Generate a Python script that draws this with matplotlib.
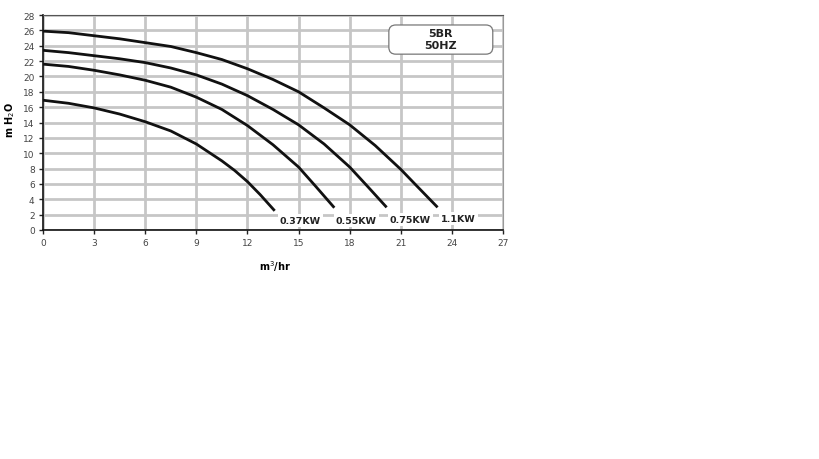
import matplotlib
matplotlib.use("Agg")
import matplotlib.pyplot as plt
from matplotlib.patches import FancyBboxPatch

# ---- data ----
x_11kw = [0, 1.5, 3, 4.5, 6, 7.5, 9, 10.5, 12, 13.5, 15, 16.5, 18, 19.5, 21, 22, 23.16]
y_11kw = [25.9, 25.7, 25.3, 24.9, 24.4, 23.9, 23.1, 22.2, 21.0, 19.6, 18.0, 15.9,
          13.7, 11.0, 7.9, 5.6, 2.95]

x_075kw = [0, 1.5, 3, 4.5, 6, 7.5, 9, 10.5, 12, 13.5, 15, 16.5, 18, 19, 20.17]
y_075kw = [23.4, 23.1, 22.7, 22.3, 21.8, 21.1, 20.2, 19.0, 17.5, 15.7, 13.7, 11.2,
           8.2, 5.8, 2.95]

x_055kw = [0, 1.5, 3, 4.5, 6, 7.5, 9, 10.5, 12, 13.5, 15, 16, 17.1]
y_055kw = [21.6, 21.3, 20.8, 20.2, 19.5, 18.6, 17.3, 15.7, 13.6, 11.1, 8.2, 5.7, 2.9]

x_037kw = [0, 1.5, 3, 4.5, 6, 7.5, 9, 10.5, 11.25, 12, 12.75, 13.6]
y_037kw = [16.9, 16.5, 15.9, 15.1, 14.1, 12.9, 11.2, 9.0, 7.75, 6.3, 4.6, 2.5]

curve_labels = ["0.37KW", "0.55KW", "0.75KW", "1.1KW"]
label_x = [15.1, 18.4, 21.55, 24.4]
label_y = [1.2, 1.2, 1.4, 1.55]

x_ticks = [0, 3, 6, 9, 12, 15, 18, 21, 24, 27]
y_ticks = [0, 2, 4, 6, 8, 10, 12, 14, 16, 18, 20, 22, 24, 26, 28]
box_text = "5BR\n50HZ"

# ---- figure ----
fig = plt.figure(figsize=(8.19, 4.60), dpi=100)
ax = fig.add_axes([43 / 819, 1 - 231 / 460, 460 / 819, 215 / 460])

ax.set_xlim(0, 27)
ax.set_ylim(0, 28)
ax.set_xticks(x_ticks)
ax.set_yticks(y_ticks)
ax.grid(True, color="#c6c6c6", linewidth=2)
ax.set_axisbelow(True)

for xs, ys in [(x_037kw, y_037kw), (x_055kw, y_055kw),
               (x_075kw, y_075kw), (x_11kw, y_11kw)]:
    ax.plot(xs, ys, color="#111111", linewidth=2, solid_capstyle="butt",
            solid_joinstyle="round")

for lab, lx, ly in zip(curve_labels, label_x, label_y):
    ax.text(lx, ly, lab, ha="center", va="center", fontsize=6.8,
            fontweight="bold", color="#222222",
            bbox=dict(facecolor="white", edgecolor="none", pad=1.5))

ax.tick_params(axis="both", labelsize=6.5, labelcolor="#444444",
               length=3, width=1, color="#222222", direction="out", pad=3)
for s in ["left", "bottom"]:
    ax.spines[s].set_color("#111111")
    ax.spines[s].set_linewidth(1.2)
ax.spines["top"].set_color("#555555")
ax.spines["right"].set_color("#999999")

ax.set_xlabel("m$^3$/hr", fontsize=7, fontweight="bold")
ax.xaxis.label.set_va("center")
ax.xaxis.set_label_coords((275 - 43) / 460, (231 - 267) / 215)
ax.set_ylabel("m H$_2$O", fontsize=7, fontweight="bold")
ax.yaxis.label.set_va("center")
ax.yaxis.set_label_coords((10 - 43) / 460, (231 - 120) / 215)

# rounded info box
aspect = (460 / 819 * 8.19) / (215 / 460 * 4.60)
box = FancyBboxPatch((20.3 / 27, 22.9 / 28), 6.1 / 27, 3.8 / 28,
                     boxstyle="round,pad=0,rounding_size=0.015",
                     mutation_aspect=aspect,
                     transform=ax.transAxes, facecolor="white",
                     edgecolor="#777777", linewidth=0.9, zorder=5)
ax.add_patch(box)
ax.text(23.35, 24.85, box_text, ha="center", va="center", fontsize=8,
        fontweight="bold", color="#222222", linespacing=1.25, zorder=6)

fig.savefig("out.png", dpi=100)
